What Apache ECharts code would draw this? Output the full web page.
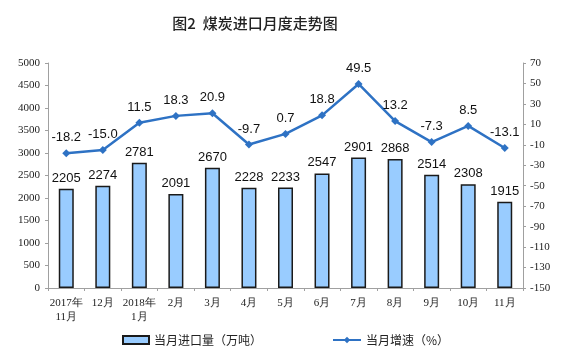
<!DOCTYPE html>
<html><head><meta charset="utf-8">
<script src="https://cdn.jsdelivr.net/npm/echarts@6/dist/echarts.min.js"></script>
<style>html,body{margin:0;padding:0;background:#fff}#c{width:561px;height:357px}</style>
</head><body><div id="c"></div>
<script>
var categories = ['2017年\n11月','12月','2018年\n1月','2月','3月','4月','5月','6月','7月','8月','9月','10月','11月'];
var importVolume = [2205,2274,2781,2091,2670,2228,2233,2547,2901,2868,2514,2308,1915];
var growthRate = [-18.2,-15.0,11.5,18.3,20.9,-9.7,0.7,18.8,49.5,13.2,-7.3,8.5,-13.1];
var leftTicks = {min:0,max:5000,interval:500};
var rightTicks = {min:-150,max:70,interval:20};

var chart = echarts.init(document.getElementById('c'));
var axisLine = {show:true,lineStyle:{color:'#a0a0a0',width:1}};
var serif = '"Liberation Serif","Times New Roman",serif';
var sans = '"Liberation Sans",Arial,sans-serif';
var cjk = '"Noto Sans CJK SC",sans-serif';
chart.setOption({
  animation:false,
  title:{text:'图2  煤炭进口月度走势图',left:250,textAlign:'center',top:11,
    textStyle:{fontFamily:cjk,fontSize:15,fontWeight:500,color:'#222'}},
  grid:{left:48,right:38,top:63,bottom:69},
  legend:[
    {left:122,bottom:11,padding:0,itemWidth:26,itemHeight:8,textStyle:{fontFamily:cjk,fontSize:12,color:'#222'},
     data:[{name:'当月进口量（万吨）',icon:'rect'}]},
    {left:332,bottom:11,padding:0,itemWidth:28,itemHeight:8,textStyle:{fontFamily:cjk,fontSize:12,color:'#222'},
     data:[{name:'当月增速（%）'}]}
  ],
  xAxis:{type:'category',data:categories,axisLine:axisLine,
    axisTick:{show:true,length:3,lineStyle:{color:'#a0a0a0'}},
    axisLabel:{fontFamily:serif,fontSize:11,color:'#222',interval:0,lineHeight:14,margin:8}},
  yAxis:[
    {type:'value',min:leftTicks.min,max:leftTicks.max,interval:leftTicks.interval,alignTicks:false,
     axisLine:axisLine,axisTick:{show:true,length:3,lineStyle:{color:'#a0a0a0'}},splitLine:{show:false},
     axisLabel:{fontFamily:serif,fontSize:11,color:'#222',margin:8,formatter:function(v){return String(v);}}},
    {type:'value',min:rightTicks.min,max:rightTicks.max,interval:rightTicks.interval,alignTicks:false,
     axisLine:axisLine,axisTick:{show:true,length:3,lineStyle:{color:'#a0a0a0'}},splitLine:{show:false},
     axisLabel:{fontFamily:serif,fontSize:11,color:'#222',margin:7,formatter:function(v){return String(v);}}}
  ],
  series:[
    {name:'当月进口量（万吨）',type:'bar',data:importVolume,barWidth:15,yAxisIndex:0,
     itemStyle:{color:'#99ccff',borderColor:'#1a1a1a',borderWidth:1.5},
     label:{show:true,position:'top',distance:4,fontFamily:sans,fontSize:13,color:'#111'}},
    {name:'当月增速（%）',type:'line',data:growthRate,yAxisIndex:1,
     symbol:'diamond',symbolSize:8,
     lineStyle:{color:'#2e72c4',width:2.5},itemStyle:{color:'#2e72c4'},
     label:{show:true,position:'top',distance:5,fontFamily:sans,fontSize:13,color:'#111',
       formatter:function(p){return p.value.toFixed(1);}}}
  ]
});
</script></body></html>
